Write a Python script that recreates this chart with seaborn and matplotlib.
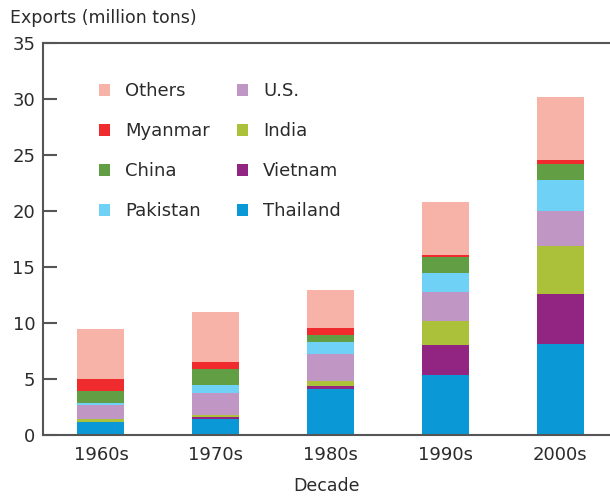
import numpy as np
import pandas as pd
import matplotlib
matplotlib.use("Agg")
import matplotlib.pyplot as plt
from matplotlib.patches import Patch
import seaborn as sns

decades = ["1960s", "1970s", "1980s", "1990s", "2000s"]
# exports per decade (million tons), bottom to top
thailand = [1.20, 1.47, 4.07, 5.32, 8.16]
vietnam = [0.00, 0.17, 0.33, 2.72, 4.44]
india = [0.20, 0.18, 0.44, 2.14, 4.27]
us = [1.25, 1.96, 2.43, 2.60, 3.09]
pakistan = [0.18, 0.71, 1.04, 1.66, 2.84]
china = [1.13, 1.42, 0.62, 1.43, 1.42]
myanmar = [1.06, 0.62, 0.65, 0.17, 0.36]
others = [4.45, 4.45, 3.35, 4.80, 5.60]

countries = ["Thailand", "Vietnam", "India", "U.S.", "Pakistan", "China", "Myanmar", "Others"]
series = [thailand, vietnam, india, us, pakistan, china, myanmar, others]
colors = ["#0a98d6", "#922581", "#abc13a", "#c096c4", "#6fd1f6", "#629f44", "#ef2b2e", "#f7b3a8"]

sns.set_style("white")
plt.rcParams["font.family"] = ["DejaVu Sans"]

df = pd.DataFrame(dict(zip(countries, series)), index=decades)
cum = df.cumsum(axis=1)

fig = plt.figure(figsize=(6.1, 4.96), dpi=100)
ax = fig.add_axes([43 / 610, 61 / 496, 567 / 610, 392 / 496])

# draw cumulative totals from the top series down so each layer sits on the one below
for name, col in reversed(list(zip(countries, colors))):
    sns.barplot(x=decades, y=cum[name].values, order=decades, color=col,
                width=0.41, saturation=1, linewidth=0, ax=ax)

txt = "#2b2b2b"
ax.set_xlim(-0.505, 4.435)
ax.set_ylim(0, 35)
ax.set_yticks(range(0, 36, 5))
ax.tick_params(axis="y", direction="in", length=10, width=1.5, color="#555555",
               labelsize=13, labelcolor=txt, pad=5.5, left=True)
ax.tick_params(axis="x", length=0, labelsize=13, labelcolor=txt, pad=8)
for s in ["left", "bottom", "top"]:
    ax.spines[s].set_visible(True)
    ax.spines[s].set_color("#555555")
    ax.spines[s].set_linewidth(1.5)
ax.spines["right"].set_visible(False)
ax.set_ylabel("")
ax.set_xlabel("Decade", fontsize=12.5, color=txt, labelpad=9)
fig.text(10 / 610, 1 - 18 / 496, "Exports (million tons)", fontsize=12.5,
         color=txt, va="center", ha="left")

legend_order = ["Others", "Myanmar", "China", "Pakistan", "U.S.", "India", "Vietnam", "Thailand"]
cmap = dict(zip(countries, colors))
handles = [Patch(facecolor=cmap[n], edgecolor="none", label=n) for n in legend_order]
ax.legend(handles=handles, ncol=2, loc="upper left", bbox_to_anchor=(0.083, 0.923),
          frameon=False, fontsize=13, borderpad=0, labelspacing=1.22,
          handlelength=0.62, handleheight=0.62, handletextpad=0.83, columnspacing=1.5,
          labelcolor=txt)

fig.savefig("out.png", dpi=100)
